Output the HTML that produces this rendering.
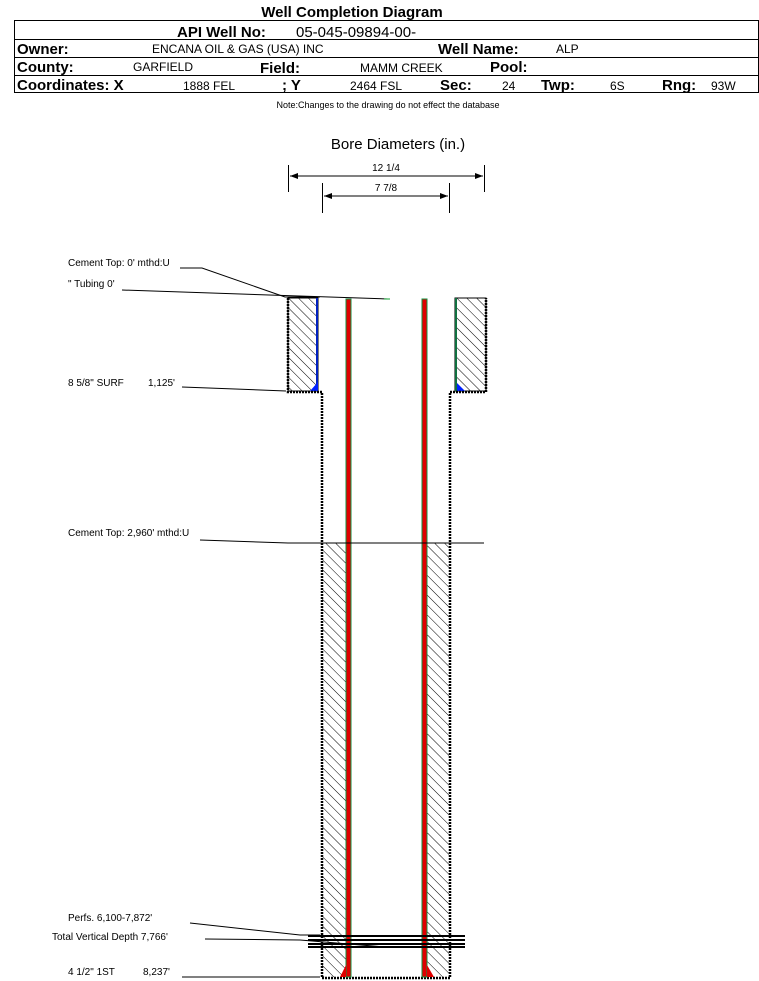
<!DOCTYPE html>
<html><head><meta charset="utf-8"><style>
html,body{margin:0;padding:0;background:#fff;}
svg{display:block;font-family:"Liberation Sans",Arial,sans-serif;}
</style></head><body>
<svg width="759" height="981" viewBox="0 0 759 981" xmlns="http://www.w3.org/2000/svg">
<defs>
<pattern id="h" width="7" height="7" patternUnits="userSpaceOnUse" patternTransform="rotate(-45)">
<rect width="7" height="7" fill="#fff"/><line x1="0" y1="0" x2="0" y2="7" stroke="#000" stroke-width="1"/>
</pattern>
<marker id="a" markerWidth="8" markerHeight="6" refX="8" refY="3" orient="auto"><path d="M0,0 L8,3 L0,6 z" fill="#000"/></marker>
<marker id="b" markerWidth="8" markerHeight="6" refX="0" refY="3" orient="auto"><path d="M8,0 L0,3 L8,6 z" fill="#000"/></marker>
</defs>
<text x="352" y="17" font-size="15" font-weight="bold" text-anchor="middle">Well Completion Diagram</text>
<rect x="14.5" y="20.5" width="744" height="72" fill="none" stroke="#000"/>
<line x1="14" y1="39.5" x2="759" y2="39.5" stroke="#000"/>
<line x1="14" y1="57.5" x2="759" y2="57.5" stroke="#000"/>
<line x1="14" y1="75.5" x2="759" y2="75.5" stroke="#000"/>
<g font-size="15" font-weight="bold">
<text x="177" y="37">API Well No:</text>
<text x="17" y="54">Owner:</text><text x="438" y="54">Well Name:</text>
<text x="17" y="72">County:</text><text x="260" y="73">Field:</text><text x="490" y="72">Pool:</text>
<text x="17" y="90">Coordinates: X</text><text x="282" y="90">; Y</text><text x="440" y="90">Sec:</text><text x="541" y="90">Twp:</text><text x="662" y="90">Rng:</text>
</g>
<g font-size="12">
<text x="296" y="37" font-size="15">05-045-09894-00-</text>
<text x="152" y="53">ENCANA OIL &amp; GAS (USA) INC</text><text x="556" y="53">ALP</text>
<text x="133" y="71">GARFIELD</text><text x="360" y="72">MAMM CREEK</text>
<text x="183" y="90">1888 FEL</text><text x="350" y="90">2464 FSL</text><text x="502" y="90">24</text><text x="610" y="90">6S</text><text x="711" y="90">93W</text>
</g>
<text x="388" y="108" font-size="9" text-anchor="middle">Note:Changes to the drawing do not effect the database</text>
<text x="398" y="149" font-size="15" text-anchor="middle">Bore Diameters (in.)</text>
<g stroke="#000" stroke-width="1">
<line x1="288.5" y1="165" x2="288.5" y2="192"/><line x1="484.5" y1="165" x2="484.5" y2="192"/>
<line x1="322.5" y1="183" x2="322.5" y2="213"/><line x1="449.5" y1="183" x2="449.5" y2="213"/>
<line x1="290" y1="176" x2="483" y2="176" marker-end="url(#a)" marker-start="url(#b)"/>
<line x1="324" y1="196" x2="448" y2="196" marker-end="url(#a)" marker-start="url(#b)"/>
</g>
<text x="386" y="171" font-size="10" text-anchor="middle">12 1/4</text>
<text x="386" y="191" font-size="10" text-anchor="middle">7 7/8</text>
<rect x="288" y="298" width="30" height="93" fill="url(#h)" stroke="#000"/>
<rect x="455" y="298" width="31" height="93" fill="url(#h)" stroke="#000"/>
<line x1="317" y1="298" x2="317" y2="391" stroke="#0020c0" stroke-width="2"/>
<line x1="456" y1="298" x2="456" y2="391" stroke="#107040" stroke-width="2"/>
<path d="M310,391 L318,391 L318,382 z" fill="#0020ff"/>
<path d="M457,391 L465,391 L457,383 z" fill="#0020ff"/>
<rect x="322" y="543" width="24" height="434" fill="url(#h)"/>
<rect x="426" y="543" width="23" height="434" fill="url(#h)"/>
<g fill="none" stroke="#000" stroke-width="2.5" stroke-dasharray="2,1">
<path d="M288,298 L288,392 L322,392 L322,978 L450,978 L450,392 L486,392 L486,298"/>
</g>
<rect x="346" y="299" width="5" height="678" fill="#e00000" stroke="#109040" stroke-width="1"/>
<rect x="422" y="299" width="5" height="678" fill="#e00000" stroke="#109040" stroke-width="1"/>
<path d="M340,977 L346,977 L346,965 z" fill="#e00000"/>
<path d="M427,977 L434,977 L427,965 z" fill="#e00000"/>
<g stroke="#000" stroke-width="2">
<line x1="308" y1="936" x2="465" y2="936"/><line x1="308" y1="940" x2="465" y2="940"/>
<line x1="308" y1="944" x2="465" y2="944"/><line x1="308" y1="947" x2="465" y2="947"/>
</g>
<g stroke="#000" stroke-width="1" fill="none">
<polyline points="180,268 202,268 285,297 320,297"/>
<polyline points="122,290 388,299"/>
<polyline points="182,387 286,391"/>
<polyline points="200,540 288,543 484,543"/>
<polyline points="190,923 300,935 320,935"/>
<polyline points="205,939 300,940 385,947"/>
<polyline points="182,977 320,977"/>
</g>
<line x1="384" y1="299" x2="390" y2="299" stroke="#10a030"/>
<g font-size="10">
<text x="68" y="266">Cement Top: 0' mthd:U</text>
<text x="68" y="287">" Tubing 0'</text>
<text x="68" y="386">8 5/8" SURF</text><text x="148" y="386">1,125'</text>
<text x="68" y="536">Cement Top: 2,960' mthd:U</text>
<text x="68" y="921">Perfs. 6,100-7,872'</text>
<text x="52" y="940">Total Vertical Depth 7,766'</text>
<text x="68" y="975">4 1/2" 1ST</text><text x="143" y="975">8,237'</text>
</g>
</svg>
</body></html>
